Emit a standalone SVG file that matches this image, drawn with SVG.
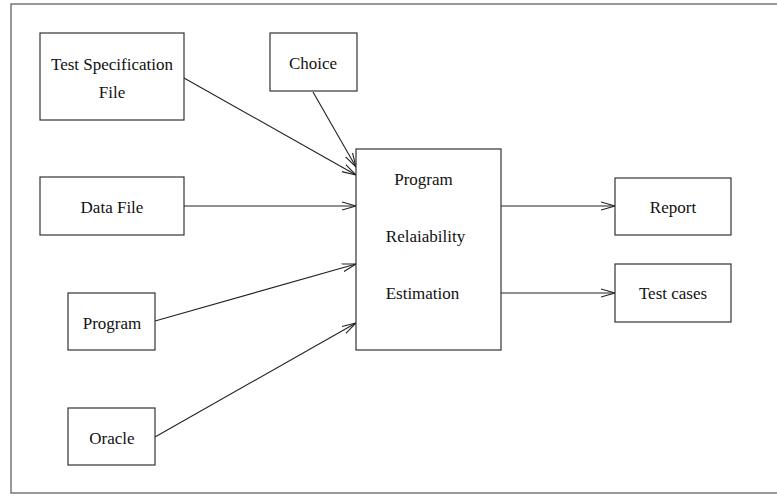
<svg xmlns="http://www.w3.org/2000/svg" width="777" height="497" viewBox="0 0 777 497">
<style>
.box{fill:#fff;stroke:#333;stroke-width:1.2}
.t{font-family:"Liberation Serif","Times New Roman",serif;font-size:17px;fill:#111;text-anchor:middle}
.c{stroke:#222;stroke-width:1.1;fill:none;marker-end:url(#ah)}
</style>
<defs>
<marker id="ah" markerUnits="userSpaceOnUse" markerWidth="16" markerHeight="12" refX="14" refY="5" orient="auto">
<path d="M0,1 L14,5 L0,9" fill="none" stroke="#222" stroke-width="1.1"/>
</marker>
</defs>
<rect x="0" y="0" width="777" height="497" fill="#fff"/>
<rect x="11" y="4" width="770" height="489" fill="none" stroke="#555" stroke-width="1.2"/>
<g id="connectors">
<line class="c" x1="184" y1="78" x2="356" y2="175"/>
<line class="c" x1="313" y1="92" x2="356" y2="167"/>
<line class="c" x1="184" y1="206" x2="356" y2="206"/>
<line class="c" x1="155" y1="321" x2="356" y2="264"/>
<line class="c" x1="155" y1="437" x2="356" y2="323"/>
<line class="c" x1="501" y1="206" x2="615" y2="206"/>
<line class="c" x1="501" y1="293" x2="615" y2="293"/>
</g>
<g id="testspec"><rect class="box" x="40" y="33" width="144" height="87"/><text class="t" x="112" y="70">Test Specification</text><text class="t" x="112" y="98">File</text></g>
<g id="choice"><rect class="box" x="270" y="33" width="87" height="58"/><text class="t" x="313" y="69">Choice</text></g>
<g id="datafile"><rect class="box" x="40" y="177" width="144" height="58"/><text class="t" x="112" y="213">Data File</text></g>
<g id="program"><rect class="box" x="68" y="293" width="87" height="57"/><text class="t" x="112" y="329">Program</text></g>
<g id="oracle"><rect class="box" x="68" y="408" width="87" height="57"/><text class="t" x="112" y="444">Oracle</text></g>
<g id="main"><rect class="box" x="356" y="149" width="145" height="201"/><text class="t" x="423.5" y="185">Program</text><text class="t" x="425.5" y="242">Relaiability</text><text class="t" x="422.5" y="299">Estimation</text></g>
<g id="report"><rect class="box" x="615" y="178" width="116" height="57"/><text class="t" x="673" y="213">Report</text></g>
<g id="testcases"><rect class="box" x="615" y="264" width="116" height="58"/><text class="t" x="673" y="299">Test cases</text></g>
</svg>
